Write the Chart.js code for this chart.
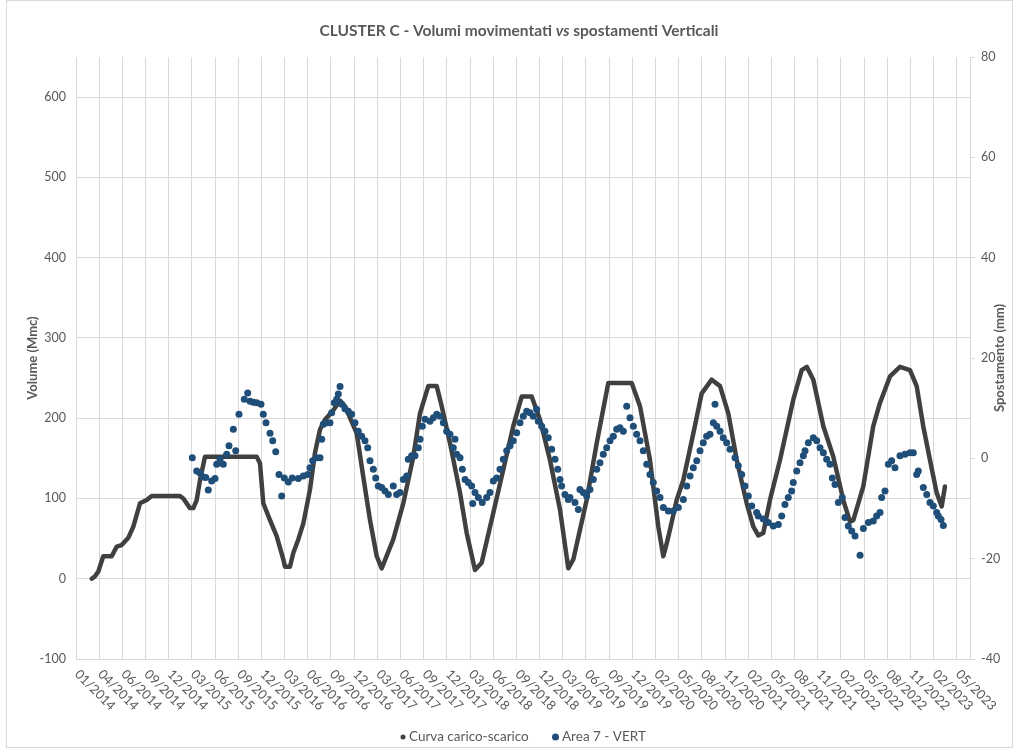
<!DOCTYPE html>
<html>
<head>
<meta charset="utf-8">
<script src="https://cdn.jsdelivr.net/npm/chart.js@4.4.0/dist/chart.umd.min.js"></script>
<style>
  html, body { margin: 0; padding: 0; background: #fff; }
  #grafico { display: block; }
</style>
</head>
<body>
<canvas id="grafico" width="1019" height="749"></canvas>
<script>
// etichette asse x (ogni ~3 mesi, 0 = 01/2014)
var xLabels = ["01/2014","04/2014","06/2014","09/2014","12/2014","03/2015","06/2015","09/2015","12/2015",
  "03/2016","06/2016","09/2016","12/2016","03/2017","06/2017","09/2017","12/2017","03/2018","06/2018",
  "09/2018","12/2018","03/2019","06/2019","09/2019","12/2019","02/2020","05/2020","08/2020","11/2020",
  "02/2021","05/2021","08/2021","11/2021","02/2022","05/2022","08/2022","11/2022","02/2023","05/2023"];
var xTickPos = [];
for (var i = 0; i < xLabels.length; i++) { xTickPos.push(i * 3); }

// curva carico-scarico (mesi da 01/2014, volume Mmc)
var curveMonths = [2.03,2.46,2.89,3.53,4.62,5.27,5.91,6.77,7.42,8.28,
  9.15,9.80,13.46,13.89,14.75,15.18,15.62,16.05,16.69,23.39,
  23.81,24.24,25.11,25.97,26.83,27.05,27.69,28.12,28.77,29.42,
  30.28,30.93,31.58,32.22,33.30,34.17,34.81,36.33,37.18,38.05,
  38.92,39.56,41.06,42.36,43.65,44.52,45.59,46.68,47.33,48.40,
  49.70,50.56,51.64,52.50,54.00,55.30,56.59,57.68,58.97,60.05,
  61.34,62.64,63.71,64.36,66.09,67.39,68.89,71.92,72.99,74.28,
  75.36,76.01,76.45,76.87,77.74,78.60,79.89,80.98,82.27,83.35,
  84.42,85.51,86.80,87.66,88.30,88.95,89.81,91.11,92.83,93.92,
  94.57,95.42,96.72,98.01,99.30,100.17,100.60,101.89,103.18,104.05,
  105.34,106.64,107.93,108.80,109.65,110.52,111.39,112.04,112.46];
var curveVolume = [0,3,9,28,28,40,42,51,65,94,
  98,103,103,100,88,88,98,123,152,152,
  144,94,73,53,24,15,15,32,49,69,
  111,157,186,198,210,222,215,181,127,73,
  28,13,49,94,152,206,240,240,215,169,
  107,57,11,20,82,136,190,227,227,198,
  148,86,13,24,98,169,244,244,215,148,
  65,28,44,61,98,123,181,231,248,240,
  206,148,94,65,54,57,98,148,223,260,
  264,248,190,152,98,71,73,115,190,219,
  252,264,260,240,190,148,107,90,115];

// Area 7 - VERT (mesi da 01/2014, spostamento mm)
var vertMonths = [15.05,15.62,16.05,16.47,16.79,17.12,17.56,17.99,18.21,18.64,
  19.06,19.50,19.80,20.36,20.67,21.09,21.78,22.22,22.52,22.95,
  23.39,23.94,24.24,24.59,25.11,25.46,25.85,26.27,26.62,26.96,
  27.48,27.99,28.77,29.42,29.99,30.28,30.63,31.15,31.58,31.80,
  32.00,32.44,32.87,33.09,33.43,33.74,33.95,34.17,34.39,34.81,
  35.24,35.68,36.11,36.53,36.97,37.40,37.75,38.05,38.48,38.79,
  39.12,39.56,39.99,40.42,41.06,41.50,41.93,42.36,42.80,43.00,
  43.44,43.87,44.30,44.52,44.82,45.17,45.81,46.24,46.68,47.11,
  47.54,47.97,48.40,48.83,49.05,49.27,49.70,50.00,50.35,50.77,
  51.21,51.34,51.64,52.07,52.58,53.15,53.58,54.01,54.45,54.87,
  55.30,55.74,56.17,56.59,57.03,57.46,57.89,58.33,58.75,59.18,
  59.62,59.83,60.27,60.69,61.12,61.56,61.99,62.34,62.64,62.85,
  63.28,63.71,63.93,64.58,65.01,65.22,65.65,66.09,66.52,66.95,
  67.39,67.81,68.24,68.68,69.11,69.54,69.98,70.40,70.83,71.27,
  71.70,72.13,72.56,72.99,73.42,73.86,74.28,74.71,75.15,75.58,
  76.01,76.66,77.30,77.95,78.60,79.04,79.47,79.89,80.33,80.76,
  81.18,81.62,82.05,82.48,82.70,82.92,83.35,83.77,84.21,84.64,
  85.29,85.71,86.15,86.58,87.01,87.45,88.09,88.30,88.95,89.59,
  90.24,90.89,91.33,91.75,92.18,92.62,92.83,93.27,93.70,94.13,
  94.35,94.78,95.42,95.86,96.29,96.72,97.15,97.58,97.88,98.23,
  98.66,99.17,99.52,99.95,100.39,100.82,101.47,101.90,102.55,103.18,
  103.62,104.05,104.27,104.70,105.13,105.56,105.99,106.64,107.28,107.93,
  108.36,108.80,109.01,109.66,110.10,110.52,110.95,111.39,111.60,111.95,
  112.25];
var vertMm = [0.1,-2.5,-2.9,-3.7,-3.8,-6.3,-4.5,-4.0,-1.2,-0.2,
  -1.2,0.8,2.5,5.8,1.5,8.8,11.8,13.0,11.4,11.2,
  11.1,10.8,8.8,7.1,5.0,3.5,1.3,-3.2,-7.5,-3.9,
  -4.7,-3.9,-4.0,-3.5,-3.2,-1.9,-0.5,0.1,0.1,3.8,
  6.8,7.1,7.1,9.1,11.1,11.8,12.8,14.3,10.8,9.9,
  9.4,8.8,7.1,5.4,4.4,3.5,2.1,-0.5,-2.2,-3.9,
  -5.5,-5.8,-6.5,-7.2,-5.5,-7.2,-6.8,-4.2,-3.5,-0.2,
  0.5,0.5,2.1,3.8,6.4,7.8,7.4,8.1,8.8,8.4,
  7.1,5.4,4.8,2.1,3.8,0.8,0.1,-2.2,-4.2,-4.8,
  -5.5,-9.0,-6.8,-7.8,-8.8,-7.8,-6.8,-4.5,-3.9,-2.2,
  -0.2,1.5,2.5,3.5,5.1,7.1,8.4,9.4,9.1,8.4,
  9.8,7.4,6.4,5.4,4.1,1.8,-0.2,-2.2,-4.2,-5.5,
  -7.2,-8.2,-7.8,-8.8,-10.2,-6.2,-6.8,-7.5,-6.2,-4.2,
  -2.2,-0.9,0.8,2.1,3.5,4.4,5.8,6.1,5.4,10.4,
  8.1,6.4,4.8,3.5,1.5,-1.2,-3.2,-4.8,-6.5,-7.8,
  -9.8,-10.5,-10.5,-9.8,-8.2,-5.5,-3.5,-1.9,-0.5,1.5,
  3.1,4.4,4.8,7.1,10.8,6.4,5.4,4.1,3.1,1.8,
  0.1,-1.5,-3.2,-5.5,-7.5,-9.5,-10.8,-11.5,-12.1,-12.8,
  -13.5,-13.2,-11.5,-9.2,-7.8,-6.5,-4.8,-2.5,-0.9,0.5,
  1.5,3.1,4.1,3.5,2.1,1.1,-0.2,-1.2,-3.9,-5.2,
  -8.8,-7.8,-11.8,-13.5,-14.5,-15.5,-19.3,-14.0,-12.8,-12.5,
  -11.5,-10.8,-7.8,-6.5,-1.2,-0.5,-1.9,0.5,0.8,1.1,
  1.1,-3.2,-2.5,-5.8,-7.2,-8.8,-9.5,-10.8,-11.5,-12.2,
  -13.4];

// colori e font
var grigioTesto = "#595959";
var grigioGriglia = "#d9d9d9";
var coloreCurva = "#404040";
var coloreVert = "#1f4e79";
var famiglia = "Lato, 'Liberation Sans', sans-serif";

var curveData = [];
for (var i = 0; i < curveMonths.length; i++) {
  curveData.push({ x: curveMonths[i], y: curveVolume[i] });
}
var vertData = [];
for (var i = 0; i < vertMonths.length; i++) {
  vertData.push({ x: vertMonths[i], y: vertMm[i] });
}

// titolo, etichette x ruotate, titolo asse destro, legenda, cornice
var testiExtra = {
  id: "testiExtra",
  afterDraw: function(chart) {
    var ctx = chart.ctx;
    var area = chart.chartArea;
    var sx = chart.scales.x;
    ctx.save();
    ctx.fillStyle = grigioTesto;
    ctx.textBaseline = "middle";

    // titolo con "vs" in corsivo
    var p1 = "CLUSTER C - Volumi movimentati ", p2 = "vs", p3 = " spostamenti Verticali";
    var fN = "bold 15.5px " + famiglia, fI = "italic bold 15.5px " + famiglia;
    ctx.font = fN;
    var w1 = ctx.measureText(p1).width, w3 = ctx.measureText(p3).width;
    ctx.font = fI;
    var w2 = ctx.measureText(p2).width;
    var x0 = 519 - (w1 + w2 + w3) / 2;
    ctx.textAlign = "left";
    ctx.font = fN; ctx.fillText(p1, x0, 31);
    ctx.font = fI; ctx.fillText(p2, x0 + w1, 31);
    ctx.font = fN; ctx.fillText(p3, x0 + w1 + w2, 31);

    // etichette asse x a 45 gradi
    ctx.font = "13px " + famiglia;
    for (var i = 0; i < xLabels.length; i++) {
      var px = sx.getPixelForValue(xTickPos[i]);
      ctx.save();
      ctx.translate(px + 1, area.bottom + 13);
      ctx.rotate(Math.PI / 4);
      ctx.fillText(xLabels[i], 0, 0);
      ctx.restore();
    }

    // titolo asse destro
    ctx.save();
    ctx.font = "bold 13px " + famiglia;
    ctx.translate(1000, (area.top + area.bottom) / 2);
    ctx.rotate(-Math.PI / 2);
    ctx.textAlign = "center";
    ctx.fillText("Spostamento (mm)", 0, 0);
    ctx.restore();

    // legenda
    ctx.font = "13.5px " + famiglia;
    ctx.textAlign = "left";
    ctx.fillStyle = coloreCurva;
    ctx.beginPath(); ctx.arc(403, 737, 2.5, 0, Math.PI * 2); ctx.fill();
    ctx.fillStyle = grigioTesto;
    ctx.fillText("Curva carico-scarico", 409, 737);
    ctx.fillStyle = coloreVert;
    ctx.beginPath(); ctx.arc(555.5, 737, 3.5, 0, Math.PI * 2); ctx.fill();
    ctx.fillStyle = grigioTesto;
    ctx.fillText("Area 7 - VERT", 562, 737);

    // cornice
    ctx.strokeStyle = grigioGriglia;
    ctx.lineWidth = 1;
    ctx.strokeRect(6.5, 0.5, 1006, 747);
    ctx.restore();
  }
};

Chart.defaults.font.family = famiglia;
Chart.defaults.color = grigioTesto;

var grafico = new Chart(document.getElementById("grafico"), {
  type: "scatter",
  data: {
    datasets: [{
      label: "Curva carico-scarico",
      data: curveData,
      showLine: true,
      yAxisID: "y",
      borderColor: coloreCurva,
      backgroundColor: coloreCurva,
      borderWidth: 4.5,
      borderJoinStyle: "round",
      borderCapStyle: "round",
      pointRadius: 0,
      order: 2
    }, {
      label: "Area 7 - VERT",
      data: vertData,
      yAxisID: "y2",
      backgroundColor: coloreVert,
      borderWidth: 0,
      pointRadius: 3.5,
      order: 1
    }]
  },
  options: {
    responsive: false,
    animation: false,
    layout: { padding: { top: 57, left: 0, right: 0, bottom: 0 } },
    plugins: {
      legend: { display: false },
      title: { display: false },
      tooltip: { enabled: false }
    },
    scales: {
      x: {
        type: "linear",
        min: 0,
        max: 115.7,
        afterBuildTicks: function(scale) {
          scale.ticks = xTickPos.map(function(v) { return { value: v }; });
        },
        afterFit: function(scale) { scale.height = 90; },
        ticks: { display: false },
        grid: { color: grigioGriglia, drawTicks: false },
        border: { color: grigioGriglia }
      },
      y: {
        position: "left",
        min: -100,
        max: 650,
        ticks: { stepSize: 100, padding: 10, font: { size: 12.5 } },
        afterBuildTicks: function(scale) {
          scale.ticks = scale.ticks.filter(function(t) { return t.value <= 600; });
        },
        afterFit: function(scale) { scale.width = 76; },
        grid: { color: grigioGriglia, drawTicks: false },
        border: { color: grigioGriglia },
        title: { display: true, text: "Volume (Mmc)", font: { size: 13, weight: "bold" }, padding: { top: 25, bottom: 0 } }
      },
      y2: {
        position: "right",
        min: -40,
        max: 80,
        ticks: { stepSize: 20, padding: 6, font: { size: 12.5 } },
        afterFit: function(scale) { scale.width = 49; },
        grid: { drawOnChartArea: false, color: grigioGriglia, tickLength: 5 },
        border: { color: grigioGriglia }
      }
    }
  },
  plugins: [testiExtra]
});
</script>
</body>
</html>
